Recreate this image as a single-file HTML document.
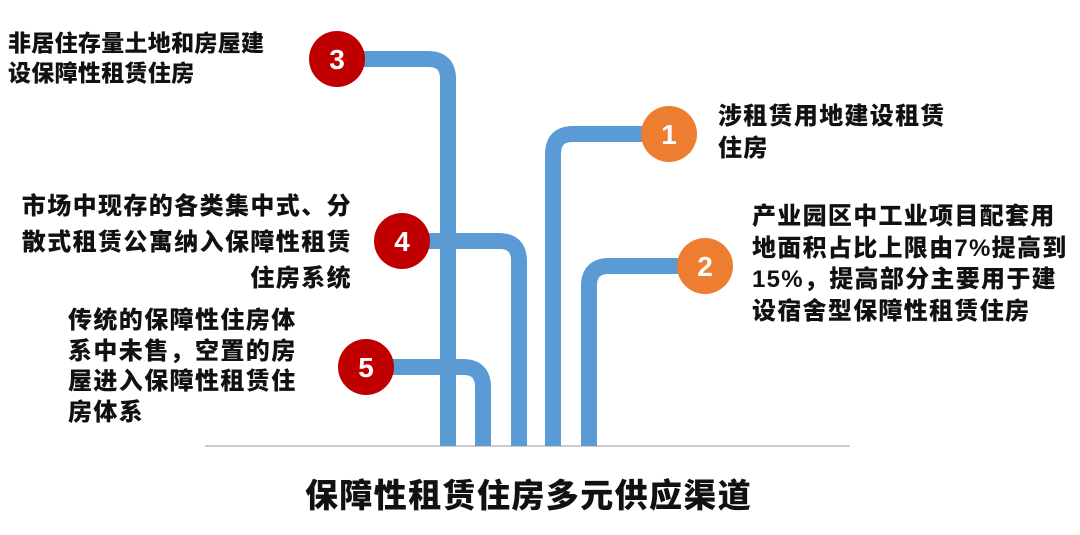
<!DOCTYPE html>
<html><head><meta charset="utf-8"><style>
body{margin:0;width:1080px;height:535px;background:#fff;position:relative;overflow:hidden;font-family:"Liberation Sans","Noto Sans CJK SC",sans-serif;font-weight:bold;color:#111}
.t{position:absolute;font-size:24px;white-space:nowrap;font-weight:900}
</style></head><body>
<svg width="1080" height="535" style="position:absolute;left:0;top:0">
<line x1="205" y1="446" x2="850" y2="446" stroke="#bbb" stroke-width="1.5"/>
<g fill="none" stroke="#5B9BD5" stroke-width="16">
<path d="M337 59 H428 Q448 59 448 79 V446"/>
<path d="M402 241 H499 Q519 241 519 261 V446"/>
<path d="M366 367 H463 Q483 367 483 387 V446"/>
<path d="M669 134 H573 Q553 134 553 154 V446"/>
<path d="M705 266 H609 Q589 266 589 286 V446"/>
</g>
<g font-family="Liberation Sans,sans-serif" font-weight="bold" font-size="28" fill="#fff" text-anchor="middle">
<circle cx="337" cy="59" r="28" fill="#C00000"/><text x="337" y="69">3</text>
<circle cx="402" cy="241" r="28" fill="#C00000"/><text x="402" y="251">4</text>
<circle cx="366" cy="367" r="28" fill="#C00000"/><text x="366" y="377">5</text>
<circle cx="669" cy="134" r="28" fill="#ED7D31"/><text x="669" y="144">1</text>
<circle cx="705" cy="266" r="28" fill="#ED7D31"/><text x="705" y="276">2</text>
</g>
</svg>
<div class="t" style="left:8px;top:28px;line-height:30px;font-size:23px;letter-spacing:0.3px">非居住存量土地和房屋建<br>设保障性租赁住房</div>
<div class="t" style="right:728px;top:189px;line-height:36px;text-align:right;letter-spacing:1.4px">市场中现存的各类集中式、分<br>散式租赁公寓纳入保障性租赁<br>住房系统</div>
<div class="t" style="left:68px;top:306px;line-height:30.5px;letter-spacing:1.4px">传统的保障性住房体<br>系中未售，空置的房<br>屋进入保障性租赁住<br>房体系</div>
<div class="t" style="left:718px;top:101px;line-height:32px;letter-spacing:1.3px">涉租赁用地建设租赁<br>住房</div>
<div class="t" style="left:752px;top:201px;line-height:31.5px;letter-spacing:1.3px">产业园区中工业项目配套用<br>地面积占比上限由7%提高到<br>15%，提高部分主要用于建<br>设宿舍型保障性租赁住房</div>
<div class="t" style="left:305px;top:469px;font-size:33px;letter-spacing:1.4px">保障性租赁住房多元供应渠道</div>
</body></html>
